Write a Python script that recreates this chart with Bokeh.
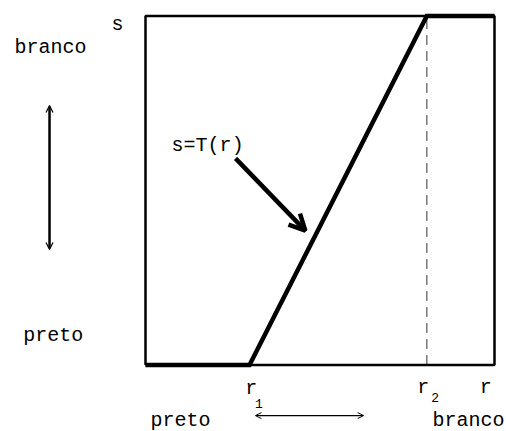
from bokeh.plotting import figure
from bokeh.models import Range1d, Arrow, OpenHead, ColumnDataSource
from bokeh.core.properties import value
from bokeh.embed import file_html
from bokeh.resources import INLINE

# ---- data ----
r1 = 0.298
r2 = 0.806
curve_r = [0.0, r1, r2, 1.0]
curve_s = [0.0, 0.0, 1.0, 1.0]
box_r = [0.0, 0.0, 1.0, 1.0, 0.0]
box_s = [0.0, 1.0, 1.0, 0.0, 0.0]

main_texts = ["s", "branco", "preto", "s=T(r)", "r", "r", "r", "preto", "branco"]
main_x = [-0.080, -0.272, -0.264, 0.178, 0.303, 0.796, 0.975, 0.100, 0.822]
main_y = [0.975, 0.910, 0.085, 0.629, -0.068, -0.065, -0.065, -0.1590, -0.1590]
main_align = ["center", "center", "center", "center", "center", "center", "center", "center", "left"]

sub_texts = ["1", "2"]
sub_x = [0.325, 0.830]
sub_y = [-0.111, -0.093]

# page-to-data mapping: box (0..1) spans page x 145..494, y 364.5..15.5
PX = 349.0
W, H = 506, 431
x0 = -145 / PX
y1 = 1 + 15.5 / PX

p = figure(width=W, height=H, output_backend="svg", toolbar_location=None,
           x_range=Range1d(x0, x0 + W / PX), y_range=Range1d(y1 - H / PX, y1),
           x_axis_type=None, y_axis_type=None, min_border=0)
p.grid.visible = False
p.outline_line_color = None
p.background_fill_color = "white"
p.border_fill_color = "white"

# dashed guide at r2
p.line([r2, r2], [0.0, 1.0], line_color="#777777", line_width=1.5, line_dash="10 6")
# box
p.line(box_r, box_s, line_color="black", line_width=2.5)
# transfer curve
p.line(curve_r, curve_s, line_color="black", line_width=4.5, line_join="miter")

src = ColumnDataSource(dict(x=main_x, y=main_y, t=main_texts, a=main_align))
p.text(x="x", y="y", text="t", source=src, text_font=value("Liberation Mono"),
       text_font_size="20px", text_align="a", text_baseline="alphabetic", text_color="black")
src2 = ColumnDataSource(dict(x=sub_x, y=sub_y, t=sub_texts))
p.text(x="x", y="y", text="t", source=src2, text_font=value("Liberation Mono"),
       text_font_size="13px", text_align="center", text_baseline="alphabetic", text_color="black")

# arrows
p.add_layout(Arrow(end=OpenHead(size=16, line_width=4.5, line_color="black"),
                   x_start=0.258, y_start=0.592, x_end=0.458, y_end=0.385,
                   line_width=4.5, line_color="black"))
p.add_layout(Arrow(start=OpenHead(size=7, line_width=1.2), end=OpenHead(size=7, line_width=1.2),
                   x_start=-0.275, y_start=0.7435, x_end=-0.275, y_end=0.331,
                   line_width=2.5, line_color="black"))
p.add_layout(Arrow(start=OpenHead(size=6, line_width=1), end=OpenHead(size=6, line_width=1),
                   x_start=0.315, y_start=-0.145, x_end=0.625, y_end=-0.145,
                   line_width=1.2, line_color="black"))

open("out.html", "w").write(file_html(p, INLINE))
